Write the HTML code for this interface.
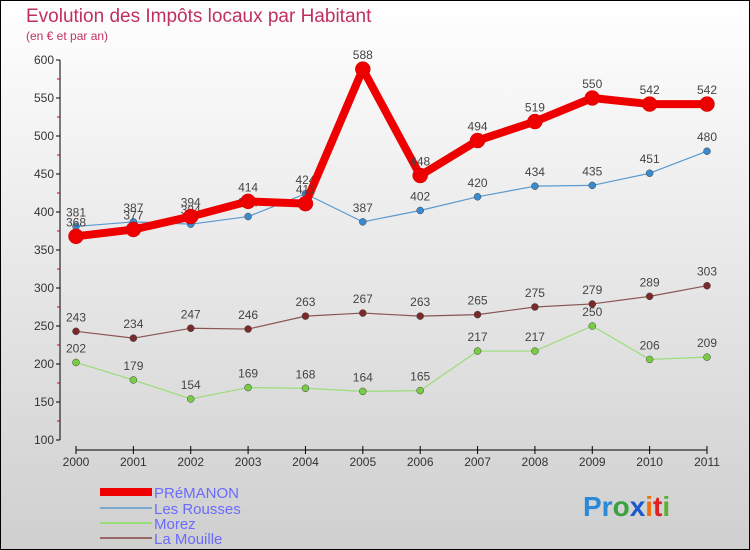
<!DOCTYPE html>
<html><head><meta charset="utf-8"><style>
body{margin:0;width:750px;height:550px;overflow:hidden}
svg{display:block;font-family:"Liberation Sans",sans-serif}
</style></head><body>
<svg width="750" height="550" id="c">
<defs><linearGradient id="bg" x1="0" y1="0" x2="0" y2="1"><stop offset="0" stop-color="#ffffff"/><stop offset="1" stop-color="#cfcfcf"/></linearGradient></defs>
<rect x="0.5" y="0.5" width="749" height="549" fill="url(#bg)" stroke="#000"/>
<text x="26" y="22" font-size="19" fill="#c0305f">Evolution des Impôts locaux par Habitant</text>
<text x="26" y="40" font-size="12" fill="#c0305f">(en € et par an)</text>
<g id="axes"></g><g id="series"></g>
<g>
<rect x="100" y="488" width="52" height="8" fill="#e00"/>
<text x="154" y="498" font-size="15" fill="#6a6aff">PRéMANON</text>
<line x1="100" y1="508" x2="152" y2="508" stroke="#7aaad0" stroke-width="2"/>
<text x="154" y="514" font-size="15" fill="#6a6aff">Les Rousses</text>
<line x1="100" y1="523" x2="152" y2="523" stroke="#99dd77" stroke-width="2"/>
<text x="154" y="529" font-size="15" fill="#6a6aff">Morez</text>
<line x1="100" y1="538" x2="152" y2="538" stroke="#996666" stroke-width="2"/>
<text x="154" y="544" font-size="15" fill="#6a6aff">La Mouille</text>
</g>
<g font-size="28" font-weight="bold">
<text x="583" y="516" fill="#2a8ad8">Pr<tspan fill="#3aa040">o</tspan><tspan fill="#1a5ad0">x</tspan><tspan fill="#f07010">i</tspan><tspan fill="#e02020">t</tspan><tspan fill="#60b030">i</tspan></text>
</g>
</svg>
<script>
const years=["2000","2001","2002","2003","2004","2005","2006","2007","2008","2009","2010","2011"];
const yTicks=[100,150,200,250,300,350,400,450,500,550,600];
const premanon=[368,377,394,414,411,588,448,494,519,550,542,542];
const lesRousses=[381,387,384,394,424,387,402,420,434,435,451,480];
const morez=[202,179,154,169,168,164,165,217,217,250,206,209];
const laMouille=[243,234,247,246,263,267,263,265,275,279,289,303];
const NS="http://www.w3.org/2000/svg";
const X=i=>76+i*(707-76)/11;
const Y=v=>440-(v-100)*0.76;
function mk(t,a,p){const e=document.createElementNS(NS,t);for(const k in a)e.setAttribute(k,a[k]);p.appendChild(e);return e;}
const ax=document.getElementById('axes');
let l=mk('line',{x1:60,y1:Y(600),x2:60,y2:440,stroke:'#000'},ax);


for(let v=125;v<600;v+=50){mk('line',{x1:57,y1:Y(v),x2:60,y2:Y(v),stroke:'#d00'},ax);}
yTicks.forEach(v=>{mk('line',{x1:56,y1:Y(v),x2:60,y2:Y(v),stroke:'#000'},ax);
const t=mk('text',{x:54,y:Y(v)+4,'font-size':12,fill:'#333','text-anchor':'end'},ax);t.textContent=v;

});
l=mk('line',{x1:76,y1:450,x2:707,y2:450,stroke:'#000'},ax);


years.forEach((y,i)=>{mk('line',{x1:X(i),y1:446,x2:X(i),y2:454,stroke:'#000'},ax);
const t=mk('text',{x:X(i),y:466,'font-size':12,fill:'#333','text-anchor':'middle'},ax);t.textContent=y;

});
const sg=document.getElementById('series');
function draw(name,data,color,w,r,dot){
const g=mk('g',{},sg);


mk('polyline',{points:data.map((v,i)=>X(i)+','+Y(v)).join(' '),fill:'none',stroke:color,'stroke-width':w,'stroke-linejoin':'round'},g);
data.forEach((v,i)=>{const c=mk('circle',{cx:X(i),cy:Y(v),r:r,fill:dot,stroke:dot==='#e00'?'#c00':'#444','stroke-width':0.5},g);


const t=mk('text',{x:X(i),y:Y(v)-10,'font-size':12,fill:'#444','text-anchor':'middle'},g);t.textContent=v;

});
}
draw('la-mouille',laMouille,'#8a5555',1.2,3.5,'#7a2a2a');
draw('morez',morez,'#99dd77',1.2,3.5,'#77cc44');
draw('les-rousses',lesRousses,'#5a9ad0',1.2,3.5,'#3a8ad0');
draw('premanon',premanon,'#e00',8,7.5,'#e00');
</script>
</body></html>
